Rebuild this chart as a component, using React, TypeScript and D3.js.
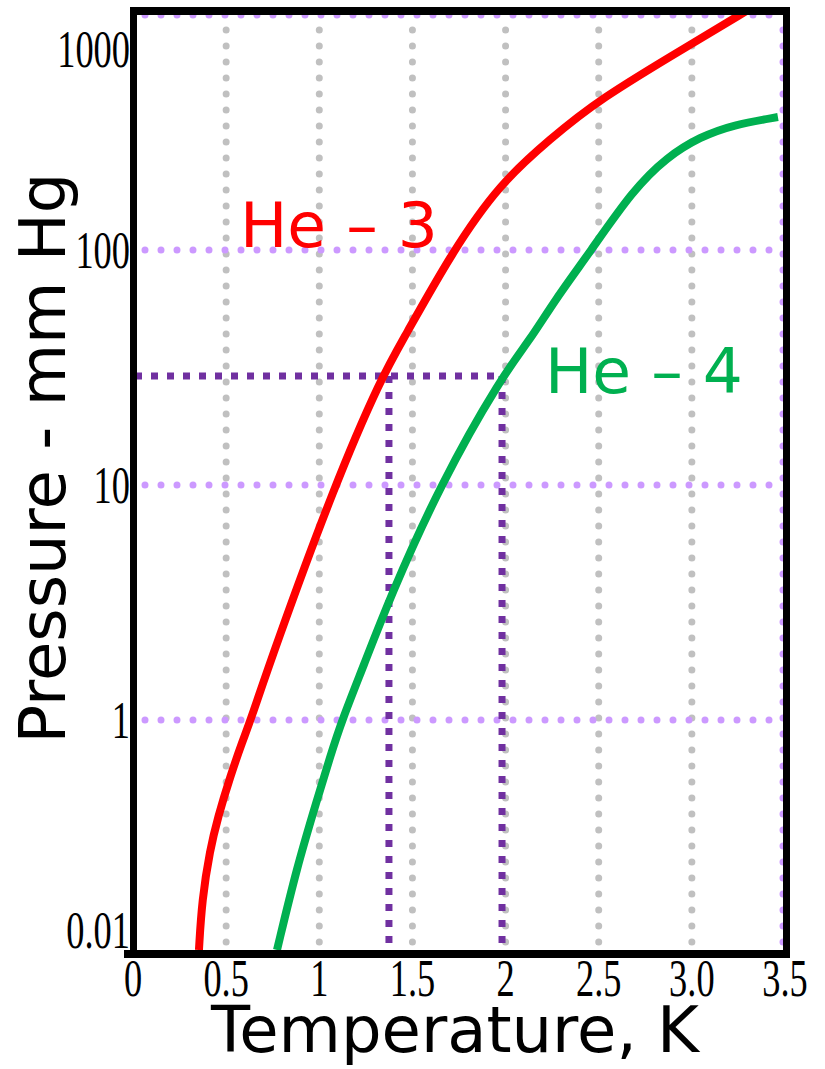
import React from "react";
import * as d3 from "d3";

// He-3 vapour pressure (T in K, P in mm Hg)
const he3T = [0.354, 0.37, 0.413, 0.456, 0.521, 0.59, 0.628, 0.752, 1.084, 1.337, 1.449, 1.712, 1.97, 2.238, 2.496, 3.006, 3.258, 3.45];
const he3P = [0.105, 0.171, 0.28, 0.386, 0.572, 0.822, 0.98, 1.93, 10.1, 29.1, 41.4, 98, 192, 296, 435, 760, 1000, 1240];

// He-4 vapour pressure
const he4T = [0.773, 0.88, 0.988, 1.058, 1.122, 1.235, 1.38, 1.648, 1.981, 2.131, 2.265, 2.453, 2.684, 2.867, 3.044, 3.221, 3.462];
const he4P = [0.105, 0.237, 0.457, 0.697, 1.0, 1.68, 3.34, 10, 29.1, 41.4, 61.3, 98, 180, 249, 303, 341, 368];

// reading at a common pressure
const refP = 29.1;
const refT = [1.374, 1.981];

const xTicks = [0, 0.5, 1, 1.5, 2, 2.5, 3, 3.5];
const xTickLabels = ["0", "0.5", "1", "1.5", "2", "2.5", "3.0", "3.5"];
const yTicks = [0.1, 1, 10, 100, 1000];
const yTickLabels = ["0.01", "1", "10", "100", "1000"];
const xGrid = [0.5, 1, 1.5, 2, 2.5, 3];
const yGrid = [1, 10, 100, 1000];

const W = 825;
const H = 1069;
const left = 133;
const right = 785;
const top = 15;
const bottom = 955;

export default function App() {
  const x = d3.scaleLinear().domain([0, 3.5]).range([left, right]);
  const y = d3.scaleLog().domain([0.1, 1000]).range([bottom, top]);

  const line = d3
    .line<[number, number]>()
    .x((d) => x(d[0]))
    .y((d) => y(d[1]))
    .curve(d3.curveBasis);

  const he3 = he3T.map((t, i) => [t, he3P[i]] as [number, number]);
  const he4 = he4T.map((t, i) => [t, he4P[i]] as [number, number]);

  const dots = { strokeWidth: 7, strokeLinecap: "round" as const, strokeDasharray: "0 16" };
  const serif = "'Liberation Serif', 'Times New Roman', serif";
  const sans = "'DejaVu Sans', Verdana, sans-serif";

  return (
    <svg width={W} height={H} style={{ position: "absolute", left: 0, top: 0, background: "#fff" }}>
      <defs>
        <clipPath id="plot">
          <rect x={left} y={11} width={right - left + 2} height={bottom - 12} />
        </clipPath>
      </defs>

      {/* grid */}
      {xGrid.map((v) => (
        <line key={"gx" + v} x1={x(v)} x2={x(v)} y1={top + 15} y2={bottom - 8} stroke="#c0c0c0" {...dots} />
      ))}
      <line x1={x(3.5) - 2} x2={x(3.5) - 2} y1={top + 15} y2={bottom - 8} stroke="#cc99ff" {...dots} />
      {yGrid.map((v) => (
        <line key={"gy" + v} x1={left + 12} x2={right} y1={y(v)} y2={y(v)} stroke="#cc99ff" {...dots} />
      ))}

      {/* reference lines */}
      <g stroke="#7030a0" strokeWidth={7} strokeDasharray="7 9" fill="none">
        <line x1={left + 2} x2={x(refT[1])} y1={y(refP)} y2={y(refP)} />
        {refT.map((t) => (
          <line key={"r" + t} x1={x(t)} x2={x(t)} y1={y(refP)} y2={bottom - 4} />
        ))}
      </g>

      {/* curves */}
      <g clipPath="url(#plot)" fill="none" strokeWidth={8}>
        <path d={line(he3) || ""} stroke="#ff0000" />
        <path d={line(he4) || ""} stroke="#00b050" />
      </g>

      {/* frame */}
      <g stroke="#000">
        <line x1={133.5} x2={133.5} y1={7} y2={958} strokeWidth={7} />
        <line x1={124} x2={790} y1={954} y2={954} strokeWidth={8} />
        <line x1={130} x2={790} y1={11} y2={11} strokeWidth={8} />
        <line x1={786.5} x2={786.5} y1={7} y2={950} strokeWidth={7} />
      </g>

      {/* tick labels */}
      {xTicks.map((v, i) => (
        <text
          key={"xt" + v}
          transform={`translate(${x(v)},996) scale(0.7,1)`}
          textAnchor="middle"
          fontFamily={serif}
          fontSize={52}
        >
          {xTickLabels[i]}
        </text>
      ))}
      {yTicks.map((v, i) => (
        <text
          key={"yt" + v}
          transform={`translate(130,${Math.min(Math.max(y(v) + 18, 67), 948)}) scale(0.7,1)`}
          textAnchor="end"
          fontFamily={serif}
          fontSize={52}
        >
          {yTickLabels[i]}
        </text>
      ))}

      {/* series labels */}
      <text x={240} y={247} fill="#ff0000" fontFamily={sans} fontSize={63}>
        He – 3
      </text>
      <text x={545} y={393} fill="#00b050" fontFamily={sans} fontSize={63}>
        He – 4
      </text>

      {/* axis titles */}
      <text x={455} y={1052} textAnchor="middle" fontFamily={sans} fontSize={64}>
        Temperature, K
      </text>
      <text transform="translate(65,458) rotate(-90)" textAnchor="middle" fontFamily={sans} fontSize={64}>
        Pressure - mm Hg
      </text>
    </svg>
  );
}
